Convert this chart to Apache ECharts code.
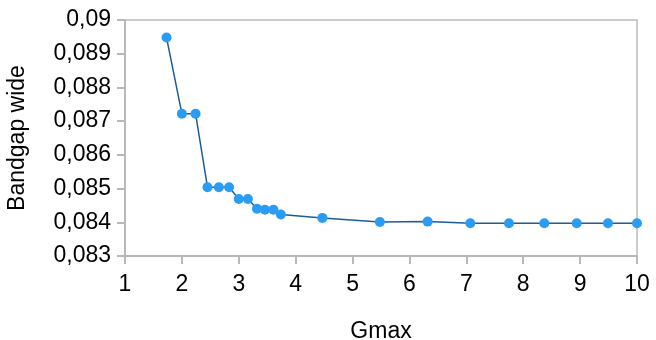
<!DOCTYPE html>
<html>
<head>
<meta charset="utf-8">
<script src="https://cdn.jsdelivr.net/npm/echarts@6/dist/echarts.min.js"></script>
<style>
  html, body { margin: 0; padding: 0; background: #fff; }
  #chart { width: 656px; height: 340px; }
</style>
</head>
<body>
<div id="chart"></div>
<script>
// Gmax values (x) and band gap width (y)
const gmax = [1.73, 2.0, 2.24, 2.45, 2.65, 2.83, 3.0, 3.16, 3.32, 3.46, 3.61, 3.74,
  4.47, 5.48, 6.32, 7.07, 7.75, 8.37, 8.94, 9.49, 10.0]
const bandgap = [0.08948, 0.08722, 0.08722, 0.08504, 0.08504, 0.08504, 0.08469, 0.08469,
  0.0844, 0.08437, 0.08437, 0.08423, 0.08413, 0.08401, 0.08402, 0.08397, 0.08397,
  0.08397, 0.08397, 0.08397, 0.08397]

const points = gmax.map((x, i) => [x, bandgap[i]])
const font = 'Liberation Sans'
const axisGray = '#b8b8b8'

const chart = echarts.init(document.getElementById('chart'))
chart.setOption({
  animation: false,
  grid: {
    left: 125,
    right: 19,
    top: 20,
    bottom: 84,
    outerBoundsMode: 'none',
    containLabel: false,
    show: true,
    borderColor: '#cccccc',
    borderWidth: 2
  },
  xAxis: {
    type: 'value',
    min: 1,
    max: 10,
    interval: 1,
    name: 'Gmax',
    nameLocation: 'middle',
    nameGap: 64,
    nameTextStyle: { fontFamily: font, fontSize: 23, color: '#000' },
    axisLine: { show: true, lineStyle: { color: axisGray, width: 2 } },
    axisTick: { show: true, length: 8, lineStyle: { color: axisGray, width: 2 } },
    axisLabel: { fontFamily: font, fontSize: 23, color: '#000', margin: 17 },
    splitLine: { show: false }
  },
  yAxis: {
    type: 'value',
    min: 0.083,
    max: 0.09,
    interval: 0.001,
    name: 'Bandgap wide',
    nameLocation: 'middle',
    nameGap: 96,
    nameTextStyle: { fontFamily: font, fontSize: 23, color: '#000' },
    axisLine: { show: true, lineStyle: { color: axisGray, width: 2 } },
    axisTick: { show: true, length: 8, lineStyle: { color: axisGray, width: 2 } },
    axisLabel: {
      fontFamily: font,
      fontSize: 23,
      color: '#000',
      margin: 14,
      formatter: (v) => String(Math.round(v * 1000) / 1000).replace('.', ',')
    },
    splitLine: { show: false }
  },
  series: [{
    type: 'line',
    data: points,
    symbol: 'circle',
    symbolSize: 10,
    itemStyle: { color: '#2a9cf2' },
    lineStyle: { color: '#1f5c97', width: 1.5 }
  }]
})
</script>
</body>
</html>
